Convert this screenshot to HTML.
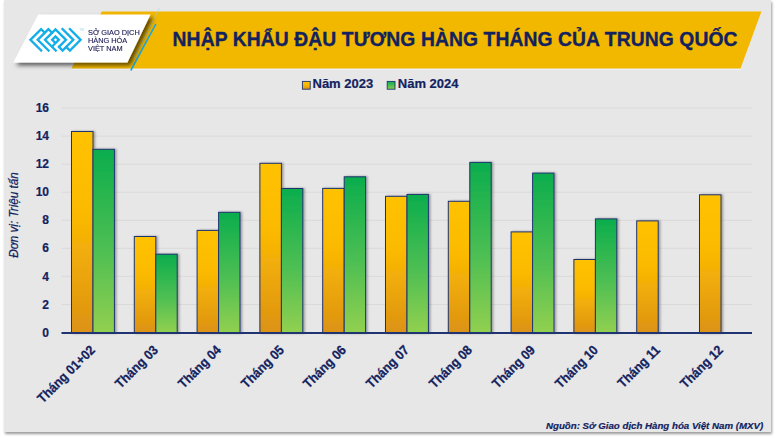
<!DOCTYPE html>
<html><head><meta charset="utf-8">
<style>
html,body{margin:0;padding:0;}
body{width:777px;height:437px;background:#ffffff;position:relative;overflow:hidden;font-family:"Liberation Sans",sans-serif;}
#panel{position:absolute;left:4px;top:0;width:767px;height:432px;background:#e7e7e7;box-shadow:1px 2px 2.5px rgba(0,0,0,0.4);}
svg{position:absolute;left:0;top:0;}
.t{position:absolute;white-space:nowrap;color:#12225f;}
.xl{position:absolute;width:200px;height:14px;line-height:14px;text-align:right;white-space:nowrap;color:#12225f;font-weight:bold;font-size:13.4px;-webkit-text-stroke:0.25px #12225f;transform-origin:100% 50%;transform:rotate(-45deg) scaleX(0.92);}
.yl{position:absolute;left:19px;width:30px;height:14px;line-height:14px;text-align:right;color:#12225f;font-weight:bold;font-size:12px;-webkit-text-stroke:0.2px #12225f;}
.yt{position:absolute;left:-36px;top:208px;width:100px;height:14px;line-height:14px;text-align:center;white-space:nowrap;color:#12225f;font-style:italic;font-size:13px;-webkit-text-stroke:0.2px #12225f;transform:rotate(-90deg) scaleX(0.9);}
</style></head>
<body>
<div id="panel"></div>
<svg width="777" height="437" viewBox="0 0 777 437">
  <defs>
    <linearGradient id="gy" x1="0" y1="0" x2="0" y2="1">
      <stop offset="0" stop-color="#ffc200"/>
      <stop offset="0.4" stop-color="#fbba02"/>
      <stop offset="1" stop-color="#dc9214"/>
    </linearGradient>
    <linearGradient id="gg" x1="0" y1="0" x2="0" y2="1">
      <stop offset="0" stop-color="#0bad4e"/>
      <stop offset="0.55" stop-color="#4ebf52"/>
      <stop offset="1" stop-color="#92d050"/>
    </linearGradient>
    <linearGradient id="cardsh" x1="0" y1="0" x2="1" y2="0">
      <stop offset="0" stop-color="#6b5410" stop-opacity="0.9"/>
      <stop offset="1" stop-color="#f2b700" stop-opacity="0"/>
    </linearGradient>
    <filter id="dsh" x="-20%" y="-20%" width="140%" height="150%">
      <feDropShadow dx="3" dy="3" stdDeviation="2.2" flood-color="#000" flood-opacity="0.6"/>
    </filter>
    <filter id="bsh" x="-20%" y="-5%" width="150%" height="110%">
      <feDropShadow dx="1.5" dy="0" stdDeviation="0.8" flood-color="#000" flood-opacity="0.35"/>
    </filter>
  </defs>
  <!-- yellow title band -->
  <line x1="71" y1="69.4" x2="741" y2="69.4" stroke="#f1f1f8" stroke-width="1.3"/>
  <polygon points="101.8,11.4 761.4,11.4 740.5,68.6 71.3,68.6" fill="#f2b800"/>
  <!-- card shadow -->
  
  <!-- blue lines -->
  <line x1="159.8" y1="7.4" x2="134" y2="58" stroke="#9cd6ee" stroke-width="0.7" opacity="0.8"/>
  <line x1="155.9" y1="23.8" x2="130.8" y2="70.5" stroke="#1aa8e0" stroke-width="1.6"/>
  <!-- white card -->
  <polygon points="38.2,14.5 150.5,14.5 127.4,62.4 13.3,62.4" fill="#ffffff" filter="url(#dsh)"/>

  <!-- logo -->
  <g transform="translate(26,24)" fill="none" stroke="#15aee8" stroke-width="2.35" stroke-linecap="square" stroke-linejoin="miter">
    <polyline points="15.1,26.5 4.4,15.8 15.1,5.1 18.7,8.7"/>
    <polyline points="22.5,26.5 11.7,15.8 22.4,5.1 26,8.7"/>
    <polyline points="29.7,26.5 19,15.8 29.5,5.3 40,15.8 33.3,22.5"/>
    <polyline points="43.9,5.1 54.6,15.8 43.9,26.5 40.3,22.9"/>
    <polyline points="36.5,5.1 47.3,15.8 36.6,26.5 33,22.9"/>
    <polyline points="29.5,19.1 26.2,15.8 29.5,12.5 32.8,15.8 26.2,22.4"/>
  </g>
  <text x="79.5" y="31" font-family="Liberation Sans" font-size="3" fill="#8fd3f0">TM</text>
  <!-- grid -->
  <g stroke="#dadada" stroke-width="1">
    <line x1="61.5" y1="108.05" x2="752" y2="108.05"/>
    <line x1="61.5" y1="136.1" x2="752" y2="136.1"/>
    <line x1="61.5" y1="164.2" x2="752" y2="164.2"/>
    <line x1="61.5" y1="192.2" x2="752" y2="192.2"/>
    <line x1="61.5" y1="220.3" x2="752" y2="220.3"/>
    <line x1="61.5" y1="248.3" x2="752" y2="248.3"/>
    <line x1="61.5" y1="276.4" x2="752" y2="276.4"/>
    <line x1="61.5" y1="304.5" x2="752" y2="304.5"/>
  </g>
  <!-- bars -->
  <g stroke="#1f3470" stroke-width="1" filter="url(#bsh)">
    <rect x="71.5" y="131.5" width="21.5" height="201.5" fill="url(#gy)"/>
    <rect x="93" y="149.3" width="21.4" height="183.7" fill="url(#gg)"/>
    <rect x="134.3" y="236.5" width="21.5" height="96.5" fill="url(#gy)"/>
    <rect x="155.8" y="254.2" width="21.4" height="78.8" fill="url(#gg)"/>
    <rect x="197.1" y="230.4" width="21.5" height="102.6" fill="url(#gy)"/>
    <rect x="218.6" y="212.3" width="21.4" height="120.7" fill="url(#gg)"/>
    <rect x="259.9" y="163.3" width="21.5" height="169.7" fill="url(#gy)"/>
    <rect x="281.4" y="188.5" width="21.4" height="144.5" fill="url(#gg)"/>
    <rect x="322.7" y="188.4" width="21.5" height="144.6" fill="url(#gy)"/>
    <rect x="344.2" y="176.8" width="21.4" height="156.2" fill="url(#gg)"/>
    <rect x="385.5" y="196.3" width="21.5" height="136.7" fill="url(#gy)"/>
    <rect x="407" y="194.4" width="21.4" height="138.6" fill="url(#gg)"/>
    <rect x="448.3" y="201.3" width="21.5" height="131.7" fill="url(#gy)"/>
    <rect x="469.8" y="162.4" width="21.4" height="170.6" fill="url(#gg)"/>
    <rect x="511.1" y="231.9" width="21.5" height="101.1" fill="url(#gy)"/>
    <rect x="532.6" y="173.1" width="21.4" height="159.9" fill="url(#gg)"/>
    <rect x="573.9" y="259.5" width="21.5" height="73.5" fill="url(#gy)"/>
    <rect x="595.4" y="218.9" width="21.4" height="114.1" fill="url(#gg)"/>
    <rect x="636.7" y="220.9" width="21.5" height="112.1" fill="url(#gy)"/>
    <rect x="699.5" y="194.8" width="21.5" height="138.2" fill="url(#gy)"/>
  </g>
  <!-- axis -->
  <line x1="61.5" y1="333" x2="752" y2="333" stroke="#1f3470" stroke-width="2"/>
  <!-- legend squares -->
  <rect x="302.4" y="81.4" width="7.8" height="7.8" fill="url(#gy)" stroke="#1f3470" stroke-width="0.9"/>
  <rect x="387.2" y="81.4" width="7.8" height="7.8" fill="url(#gg)" stroke="#1f3470" stroke-width="0.9"/>
</svg>

<div class="t" style="left:172.6px;top:29px;font-size:19.3px;font-weight:bold;letter-spacing:0.1px;-webkit-text-stroke:0.35px #12225f;">NHẬP KHẨU ĐẬU TƯƠNG HÀNG THÁNG CỦA TRUNG QUỐC</div>
<div class="t" style="left:312.5px;top:76.1px;font-size:13px;font-weight:bold;-webkit-text-stroke:0.2px #12225f;">Năm 2023</div>
<div class="t" style="left:397.8px;top:76.1px;font-size:13px;font-weight:bold;-webkit-text-stroke:0.2px #12225f;">Năm 2024</div>

<div class="t" style="left:88px;top:28.6px;font-size:8px;line-height:8.15px;color:#23225a;transform-origin:0 0;transform:scaleX(0.92);-webkit-text-stroke:0.15px #23225a;">SỞ GIAO DỊCH<br>HÀNG HÓA<br>VIỆT NAM</div>

<!-- y labels -->
<div class="xl" style="left:-106.9px;top:341px;">Tháng 01+02</div>
<div class="xl" style="left:-44.1px;top:341px;">Tháng 03</div>
<div class="xl" style="left:18.7px;top:341px;">Tháng 04</div>
<div class="xl" style="left:81.5px;top:341px;">Tháng 05</div>
<div class="xl" style="left:144.3px;top:341px;">Tháng 06</div>
<div class="xl" style="left:207.1px;top:341px;">Tháng 07</div>
<div class="xl" style="left:269.9px;top:341px;">Tháng 08</div>
<div class="xl" style="left:332.7px;top:341px;">Tháng 09</div>
<div class="xl" style="left:395.5px;top:341px;">Tháng 10</div>
<div class="xl" style="left:458.3px;top:341px;">Tháng 11</div>
<div class="xl" style="left:521.1px;top:341px;">Tháng 12</div>
<div class="yl" style="top:100.6px;">16</div>
<div class="yl" style="top:129.0px;">14</div>
<div class="yl" style="top:157.1px;">12</div>
<div class="yl" style="top:185.2px;">10</div>
<div class="yl" style="top:213.3px;">8</div>
<div class="yl" style="top:241.4px;">6</div>
<div class="yl" style="top:269.5px;">4</div>
<div class="yl" style="top:297.6px;">2</div>
<div class="yl" style="top:325.7px;">0</div>
<div class="yt">Đơn vị: Triệu tấn</div>

<div class="t" style="left:546px;top:420px;font-size:9.7px;font-weight:bold;font-style:italic;-webkit-text-stroke:0.2px #12225f;">Nguồn: Sở Giao dịch Hàng hóa Việt Nam (MXV)</div>
</body></html>
